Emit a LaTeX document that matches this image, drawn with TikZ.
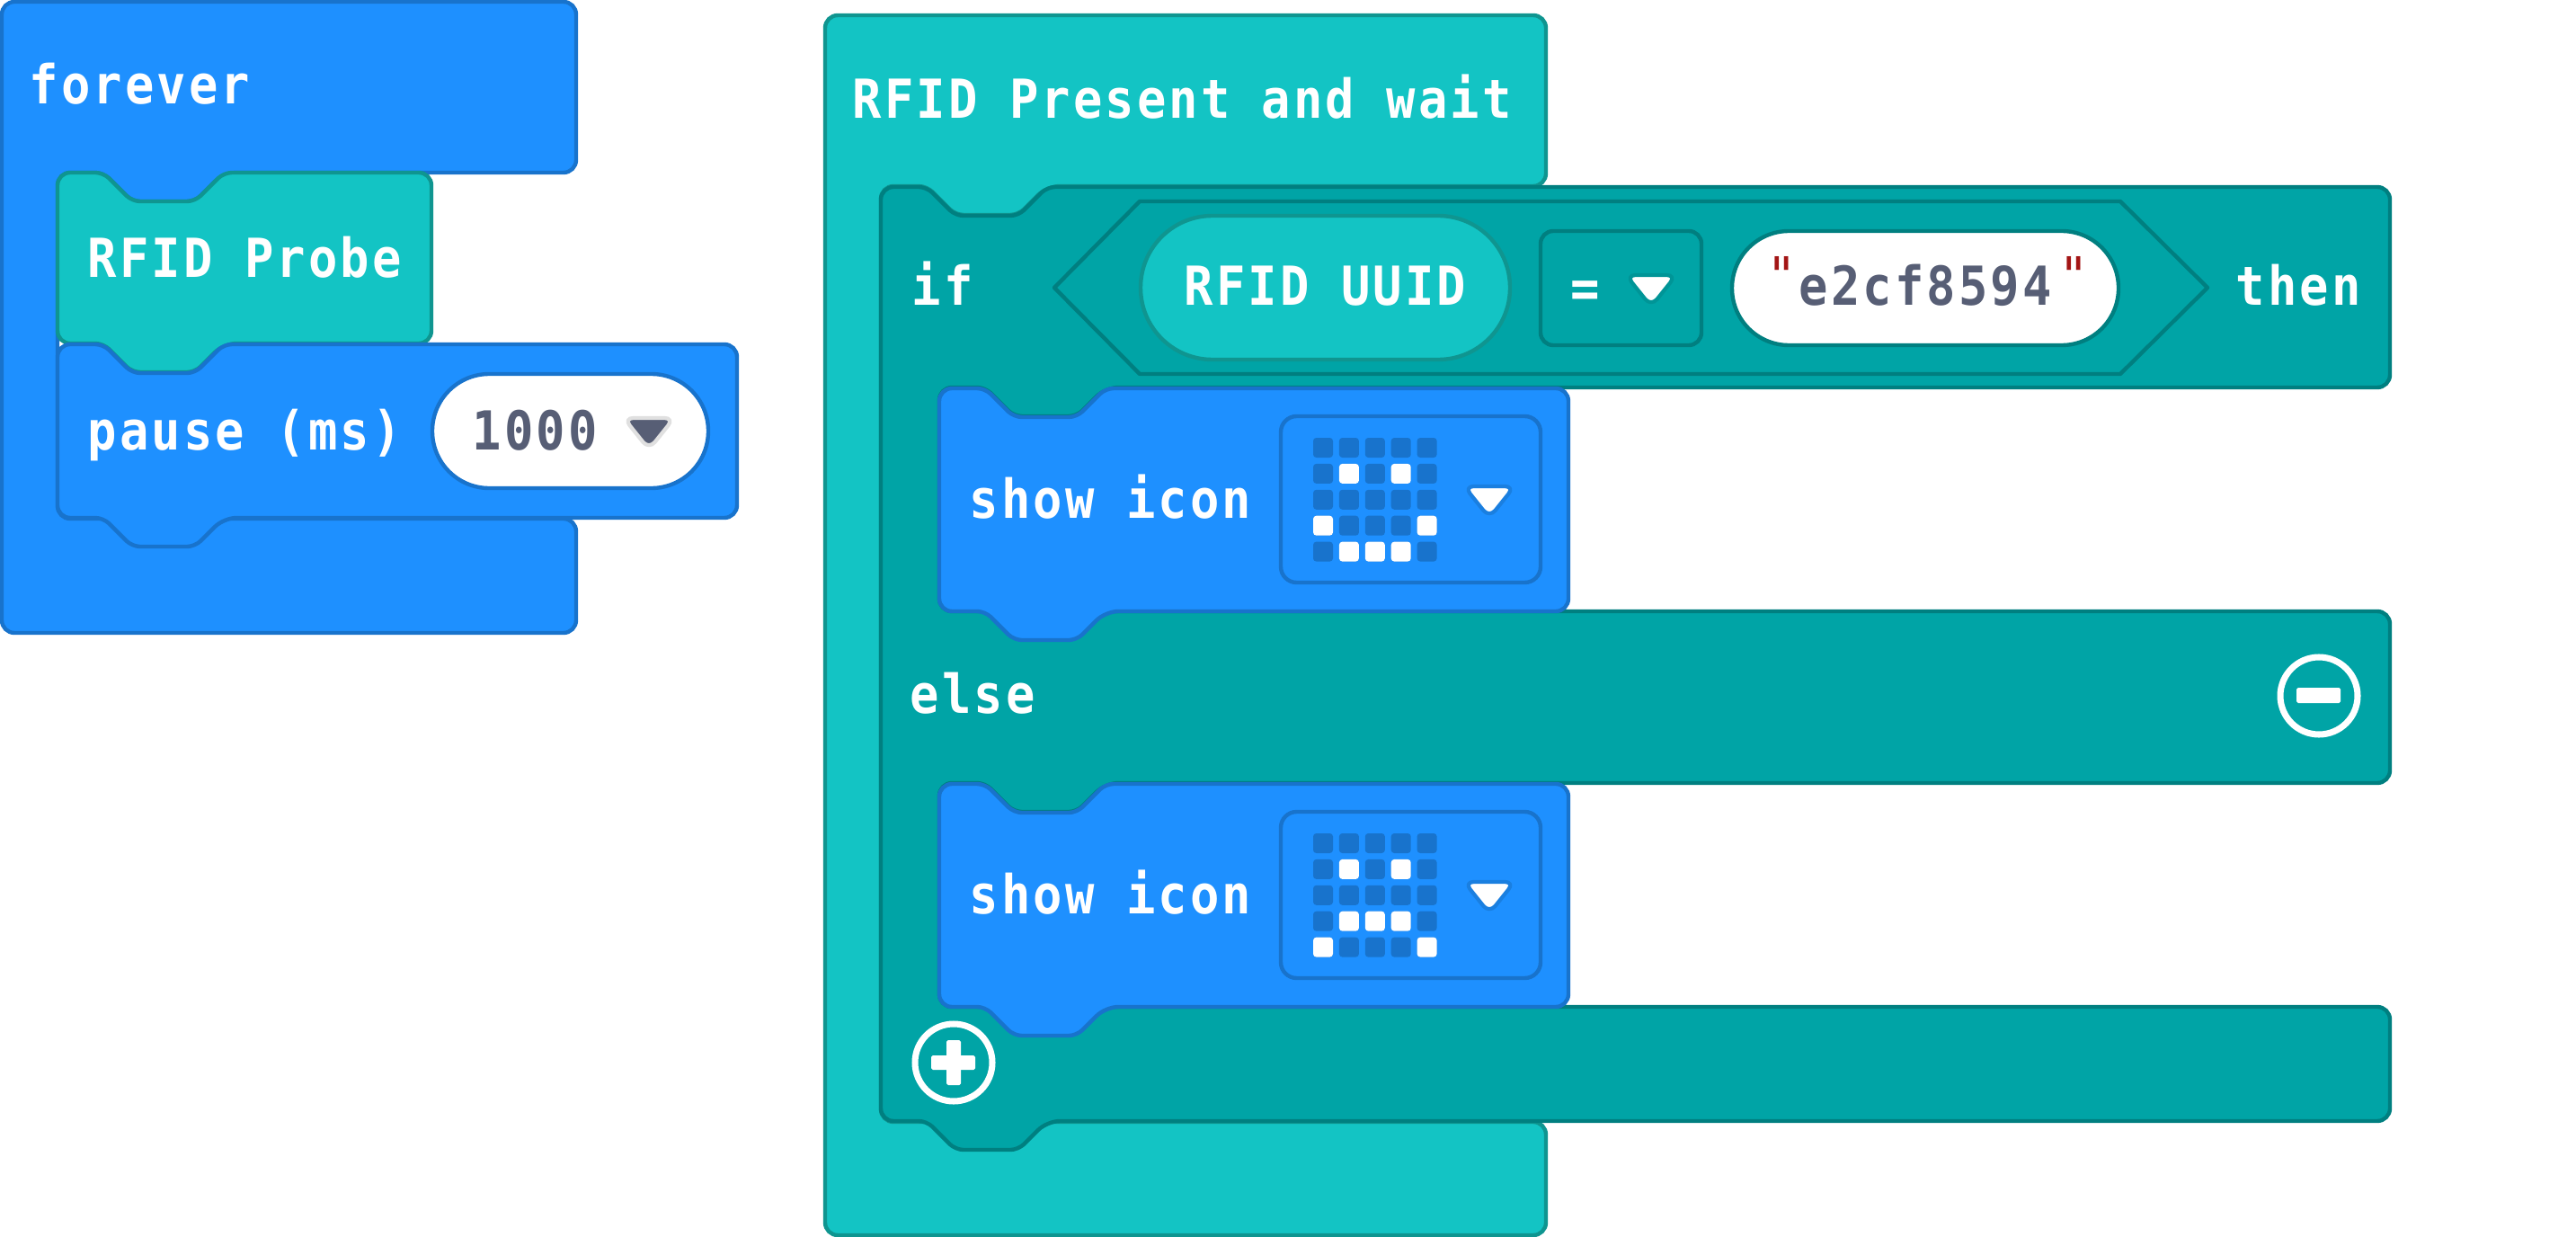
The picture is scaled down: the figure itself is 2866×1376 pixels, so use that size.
\documentclass[tikz,border=0pt]{standalone}
\usepackage{fontspec}
\setmainfont{DejaVu Sans Mono Bold}[FakeStretch=0.9,LetterSpace=5.2]
\newfontfamily\quotefont{DejaVu Sans}
\definecolor{loopfill}{HTML}{1E90FF}
\definecolor{loopline}{HTML}{1873CC}
\definecolor{rfidfill}{HTML}{13C4C4}
\definecolor{rfidline}{HTML}{0F9590}
\definecolor{logicfill}{HTML}{00A4A6}
\definecolor{logicline}{HTML}{007F80}
\definecolor{greytext}{HTML}{575E75}
\definecolor{quotered}{HTML}{A31515}
\definecolor{halo}{HTML}{1A7FE0}
% notch cut into a top edge, bump hanging from a bottom edge
\newcommand{\topnotch}{[rounded corners=2.5pt] -- ++(51,0) -- ++(32,32) -- ++(70,0) -- ++(32,-32) [rounded corners=4pt]}
\newcommand{\bottombump}{[rounded corners=2.5pt] -- ++(-32,32) -- ++(-70,0) -- ++(-32,-32) [rounded corners=4pt]}
\tikzset{
  bluebox/.style={draw=loopline, fill=loopfill, line width=1.25pt, rounded corners=4pt},
  rfidbox/.style={draw=rfidline, fill=rfidfill, line width=1.25pt, rounded corners=4pt},
  logicbox/.style={draw=logicline, fill=logicfill, line width=1.25pt, rounded corners=4pt},
  blocktext/.style={anchor=base west, inner sep=0pt, text=white, font=\fontsize{17}{20}\selectfont},
  fieldtext/.style={blocktext, text=greytext},
}
\begin{document}
\begin{tikzpicture}[line cap=round,line join=round,x=0.01cm,y=-0.01cm]
\useasboundingbox (0,0) rectangle (2866,1376);

% Forever
\draw [bluebox] (2,2) -- (641,2) -- (641,192) -- (249,192) \bottombump -- (64,192) -- (64,577) -- (641,577) -- (641,704) -- (2,704) -- cycle;
\draw [rfidbox] (64,192) \topnotch -- (480,192) -- (480,382) -- (249,382) \bottombump -- (64,382) -- cycle;
\draw [bluebox] (64,383) \topnotch -- (820,383) -- (820,576) -- (249,576) \bottombump -- (64,576) -- cycle;
\draw [draw=loopline, fill=white, line width=1.25pt, rounded corners=18pt] (481,416) rectangle (788,543);

\node [blocktext] (forever) at (32,116) {forever};
\node [blocktext] (probe) at (97,308) {RFID Probe};
\node [blocktext] (pause) at (97,500) {pause (ms)};
\node [fieldtext] (thousand) at (525,500) {1000};

% Present and wait
\draw [rfidbox] (918,17) -- (1720,17) -- (1720,207) -- (1165,207) \bottombump -- (980,207) -- (980,1248) -- (1720,1248) -- (1720,1374) -- (918,1374) -- cycle;
\draw [logicbox] (980,208) \topnotch -- (2659,208) -- (2659,431) -- (1230,431) \bottombump -- (1045,431) -- (1045,680) -- (2659,680) -- (2659,871) -- (1230,871) \bottombump -- (1045,871) -- (1045,1120) -- (2659,1120) -- (2659,1247) -- (1165,1247) \bottombump -- (980,1247) -- cycle;

% Condition
\draw [draw=logicline, fill=logicfill, line width=1.25pt] (1173,320) -- (1268,224) -- (2359,224) -- (2456,320) -- (2359,416) -- (1268,416) -- cycle;
\draw [draw=rfidline, fill=rfidfill, line width=1.25pt, rounded corners=22.7pt] (1269,240) rectangle (1680,400);
\draw [draw=logicline, line width=1.25pt, rounded corners=4pt] (1714,257) rectangle (1893,384);
\draw [draw=logicline, fill=white, line width=1.25pt, rounded corners=18pt] (1927,257) rectangle (2357,384);

\node [blocktext] (ifword) at (1014,339) {if};
\node [blocktext] (present) at (948,132) {RFID Present and wait};
\node [blocktext] (uuid) at (1317,339) {RFID UUID};
\node [blocktext, anchor=base] (equals) at (1764,341) {=};
\node [fieldtext] (uuidvalue) at (2001,339) {e2cf8594};
\node [blocktext, anchor=base, text=quotered, font=\quotefont\fontsize{16}{18}\selectfont] (openquote) at (1982,327) {"};
\node [blocktext, anchor=base, text=quotered, font=\quotefont\fontsize{16}{18}\selectfont] (closequote) at (2307,327) {"};
\node [blocktext] (thenword) at (2487,339) {then};
\node [blocktext] (elseword) at (1012,793) {else};

% Show icon blocks
\foreach \top/\word in {432/showa,872/showb} {
  \draw [bluebox] (1045,\top) \topnotch -- (1745,\top) -- (1745,\top+248) -- (1230,\top+248) \bottombump -- (1045,\top+248) -- cycle;
  \draw [draw=loopline, line width=1.25pt, rounded corners=5pt] (1425,\top+31) rectangle (1714,\top+216);
  \node [blocktext] (\word) at (1078,\top+144) {show icon};
  \foreach \i in {0,...,4}
  \foreach \j in {0,...,4}
  \fill [color=loopline, rounded corners=1pt] (1461+\i*28.9,\top+55+\j*28.9) rectangle ++(22,22);
}

% Lit LEDs
\foreach \i/\j in {1/1,3/1,0/3,4/3,1/4,2/4,3/4}
\fill [color=white, rounded corners=1pt] (1461+\i*28.9,487+\j*28.9) rectangle ++(22,22);
\foreach \i/\j in {1/1,3/1,1/3,2/3,3/3,0/4,4/4}
\fill [color=white, rounded corners=1pt] (1461+\i*28.9,927+\j*28.9) rectangle ++(22,22);

% Dropdown arrows
\foreach \x/\y/\inner/\outer in {722/465/greytext/black!12,1837/306/white/logicline!40!logicfill,1657/541/white/halo,1657/981/white/halo}
\draw [draw=\outer, fill=\inner, line width=1.2pt, rounded corners=3pt] (\x-28,\y) -- (\x+28,\y) -- (\x,\y+35) -- cycle;

% Plus and minus
\draw [color=white, line width=2pt] (2580,774) circle (43);
\fill [color=white, rounded corners=0.5pt] (2555,765) rectangle (2604,782);
\draw [color=white, line width=2pt] (1061,1182) circle (43);
\fill [color=white, rounded corners=0.5pt] (1036,1174) rectangle (1085,1190);
\fill [color=white, rounded corners=0.5pt] (1053,1157) rectangle (1069,1207);
\end{tikzpicture}
\end{document}
